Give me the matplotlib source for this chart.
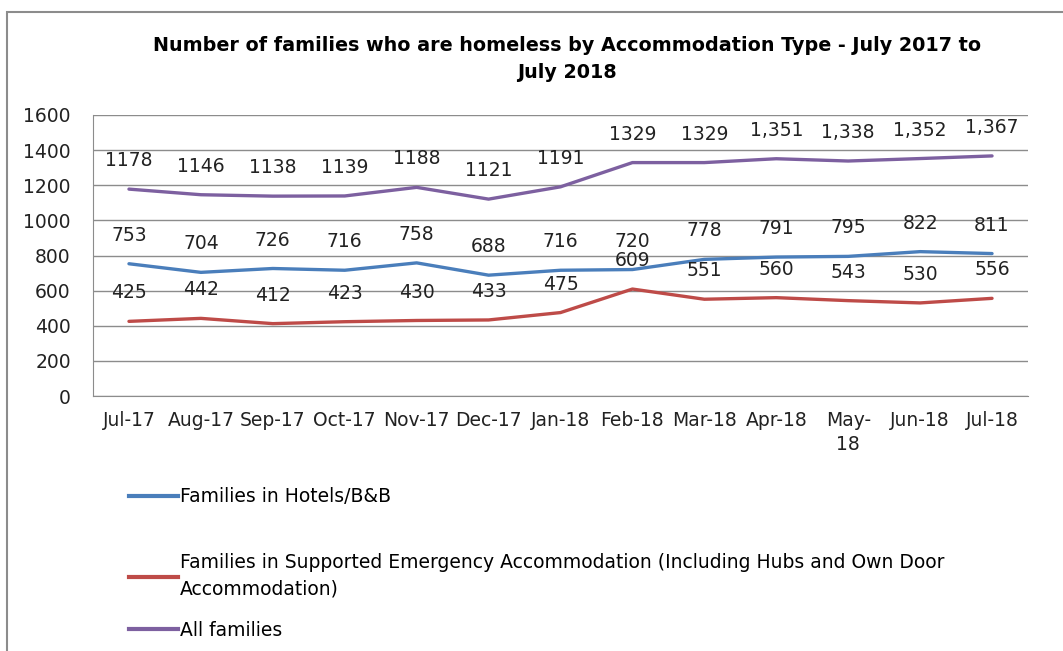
import matplotlib.pyplot as plt
from matplotlib.lines import Line2D
from matplotlib.patches import Rectangle

months = ["Jul-17", "Aug-17", "Sep-17", "Oct-17", "Nov-17", "Dec-17", "Jan-18",
          "Feb-18", "Mar-18", "Apr-18", "May-\n18", "Jun-18", "Jul-18"]
hotels = [753, 704, 726, 716, 758, 688, 716, 720, 778, 791, 795, 822, 811]
supported = [425, 442, 412, 423, 430, 433, 475, 609, 551, 560, 543, 530, 556]
all_families = [1178, 1146, 1138, 1139, 1188, 1121, 1191, 1329, 1329, 1351, 1338, 1352, 1367]
all_labels = ["1178", "1146", "1138", "1139", "1188", "1121", "1191", "1329", "1329",
              "1,351", "1,338", "1,352", "1,367"]

series_names = ["Families in Hotels/B&B",
                "Families in Supported Emergency Accommodation (Including Hubs and Own Door\nAccommodation)",
                "All families"]
colors = ["#4A7EBB", "#BE4B48", "#7D60A0"]

fig = plt.figure(figsize=(10.63, 6.51), dpi=100)
fig.patches.append(Rectangle((7 / 1063, -0.1), 1.2, 1 - 12 / 651 + 0.1,
                             transform=fig.transFigure, fill=False,
                             edgecolor="#8c8c8c", linewidth=1.5))

ax = fig.add_axes([93 / 1063, 1 - 396 / 651, (1028 - 93) / 1063, (396 - 115) / 651])
x = list(range(len(months)))

series = [(hotels, [str(v) for v in hotels]),
          (supported, [str(v) for v in supported]),
          (all_families, all_labels)]
for (vals, labels), col in zip(series, colors):
    ax.plot(x, vals, color=col, linewidth=2.4, solid_capstyle="round")
    for xi, v, lab in zip(x, vals, labels):
        ax.annotate(lab, (xi, v), xytext=(0, 20.5), textcoords="offset points",
                    ha="center", va="center", fontsize=13.5, color="#222222")

ax.set_xlim(-0.5, len(months) - 0.5)
ax.set_ylim(0, 1600)
ax.set_yticks(range(0, 1601, 200))
ax.set_xticks(x)
ax.set_xticklabels(months, linespacing=1.3)
ax.grid(axis="y", color="#8c8c8c", linewidth=1)
ax.set_axisbelow(True)
for side in ["top", "right"]:
    ax.spines[side].set_visible(False)
for side in ["left", "bottom"]:
    ax.spines[side].set_color("#8c8c8c")
ax.tick_params(axis="both", length=0, labelsize=13.5, colors="#222222")
ax.tick_params(axis="y", pad=16)
ax.tick_params(axis="x", pad=11)

fig.text(567 / 1063, 1 - 59 / 651,
         "Number of families who are homeless by Accommodation Type - July 2017 to\nJuly 2018",
         ha="center", va="center", fontsize=13.8, fontweight="bold",
         linespacing=1.55)

# legend entries, one block each (Excel spacing is uneven)
legend_y = [497, 576, 630]
for name, col, ly in zip(series_names, colors, legend_y):
    h = Line2D([], [], color=col, linewidth=3)
    leg = fig.legend([h], [name], loc="center left",
                     bbox_to_anchor=(112 / 1063, 1 - ly / 651), frameon=False,
                     handlelength=2.6, handletextpad=0.1,
                     prop={"size": 13.5})
    for t in leg.get_texts():
        t.set_linespacing(1.5)

fig.savefig("out.png", dpi=100)
